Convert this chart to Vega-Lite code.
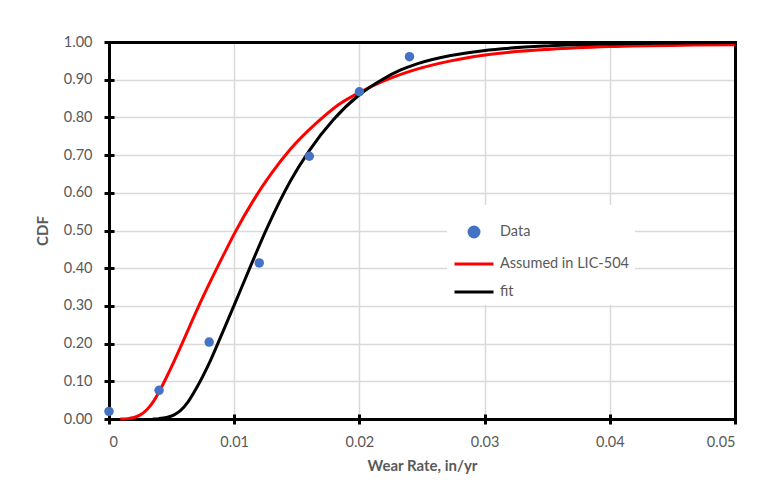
{
  "$schema": "https://vega.github.io/schema/vega-lite/v6.json",
  "autosize": "none",
  "width": 626,
  "height": 377,
  "padding": {"left": 109, "top": 42, "right": 43, "bottom": 69},
  "background": "white",
  "config": {
    "view": {"stroke": null},
    "font": "Lato",
    "legend": {
      "orient": "none", "legendX": 338, "legendY": 163, "title": null,
      "fillColor": "white", "padding": 6, "rowPadding": -8,
      "labelFont": "Lato", "labelFontSize": 14.5, "labelColor": "#595959", "labelOffset": 5,
      "symbolSize": 1521, "symbolStrokeWidth": 3
    }
  },
  "datasets": {
    "pts": [
      {"series": "Data", "x": 0.0, "y": 0.020},
      {"series": "Data", "x": 0.004, "y": 0.076},
      {"series": "Data", "x": 0.008, "y": 0.204},
      {"series": "Data", "x": 0.012, "y": 0.414},
      {"series": "Data", "x": 0.016, "y": 0.697},
      {"series": "Data", "x": 0.020, "y": 0.868},
      {"series": "Data", "x": 0.024, "y": 0.961}
    ],
    "curves": [
      {"series": "Assumed in LIC-504", "x": 0.0009, "y": 0.000},
      {"series": "Assumed in LIC-504", "x": 0.0015, "y": 0.001},
      {"series": "Assumed in LIC-504", "x": 0.0020, "y": 0.004},
      {"series": "Assumed in LIC-504", "x": 0.0025, "y": 0.011},
      {"series": "Assumed in LIC-504", "x": 0.0030, "y": 0.024},
      {"series": "Assumed in LIC-504", "x": 0.0035, "y": 0.044},
      {"series": "Assumed in LIC-504", "x": 0.0040, "y": 0.072},
      {"series": "Assumed in LIC-504", "x": 0.0048, "y": 0.125},
      {"series": "Assumed in LIC-504", "x": 0.0057, "y": 0.190},
      {"series": "Assumed in LIC-504", "x": 0.0071, "y": 0.295},
      {"series": "Assumed in LIC-504", "x": 0.0081, "y": 0.365},
      {"series": "Assumed in LIC-504", "x": 0.0091, "y": 0.432},
      {"series": "Assumed in LIC-504", "x": 0.0101, "y": 0.497},
      {"series": "Assumed in LIC-504", "x": 0.0115, "y": 0.578},
      {"series": "Assumed in LIC-504", "x": 0.0129, "y": 0.648},
      {"series": "Assumed in LIC-504", "x": 0.0145, "y": 0.716},
      {"series": "Assumed in LIC-504", "x": 0.0166, "y": 0.786},
      {"series": "Assumed in LIC-504", "x": 0.0183, "y": 0.833},
      {"series": "Assumed in LIC-504", "x": 0.0200, "y": 0.866},
      {"series": "Assumed in LIC-504", "x": 0.0219, "y": 0.896},
      {"series": "Assumed in LIC-504", "x": 0.0246, "y": 0.928},
      {"series": "Assumed in LIC-504", "x": 0.0273, "y": 0.950},
      {"series": "Assumed in LIC-504", "x": 0.0299, "y": 0.965},
      {"series": "Assumed in LIC-504", "x": 0.0353, "y": 0.981},
      {"series": "Assumed in LIC-504", "x": 0.0400, "y": 0.988},
      {"series": "Assumed in LIC-504", "x": 0.0467, "y": 0.992},
      {"series": "Assumed in LIC-504", "x": 0.0500, "y": 0.993},
      {"series": "fit", "x": 0.0035, "y": 0.000},
      {"series": "fit", "x": 0.0040, "y": 0.001},
      {"series": "fit", "x": 0.0046, "y": 0.004},
      {"series": "fit", "x": 0.0052, "y": 0.011},
      {"series": "fit", "x": 0.0057, "y": 0.022},
      {"series": "fit", "x": 0.0063, "y": 0.045},
      {"series": "fit", "x": 0.0070, "y": 0.083},
      {"series": "fit", "x": 0.0081, "y": 0.155},
      {"series": "fit", "x": 0.0091, "y": 0.232},
      {"series": "fit", "x": 0.0101, "y": 0.310},
      {"series": "fit", "x": 0.0113, "y": 0.405},
      {"series": "fit", "x": 0.0126, "y": 0.505},
      {"series": "fit", "x": 0.0145, "y": 0.632},
      {"series": "fit", "x": 0.0160, "y": 0.712},
      {"series": "fit", "x": 0.0179, "y": 0.793},
      {"series": "fit", "x": 0.0200, "y": 0.860},
      {"series": "fit", "x": 0.0219, "y": 0.902},
      {"series": "fit", "x": 0.0233, "y": 0.926},
      {"series": "fit", "x": 0.0246, "y": 0.942},
      {"series": "fit", "x": 0.0273, "y": 0.964},
      {"series": "fit", "x": 0.0299, "y": 0.977},
      {"series": "fit", "x": 0.0353, "y": 0.990},
      {"series": "fit", "x": 0.0400, "y": 0.995},
      {"series": "fit", "x": 0.0467, "y": 0.998},
      {"series": "fit", "x": 0.0500, "y": 0.999}
    ]
  },
  "layer": [
    {
      "data": {"name": "curves"},
      "transform": [{"filter": "datum.series == 'Assumed in LIC-504'"}],
      "mark": {"type": "line", "strokeWidth": 3, "interpolate": "monotone"},
      "encoding": {
        "x": {
          "field": "x", "type": "quantitative",
          "scale": {"domain": [0, 0.05], "nice": false, "zero": false},
          "axis": {
            "orient": "bottom",
            "title": "Wear Rate, in/yr", "titleFont": "Lato", "titleFontSize": 15, "titleFontWeight": "bold", "titleColor": "#595959", "titlePadding": 10,
            "labelFont": "Lato", "labelFontSize": 14.5, "labelColor": "#595959", "labelPadding": 11,
            "values": [0, 0.01, 0.02, 0.03, 0.04, 0.05], "format": ".2~f",
            "tickSize": 5, "tickWidth": 3, "tickColor": "black",
            "domainColor": "black", "domainWidth": 3, "domainCap": "square",
            "grid": true, "gridColor": "#d9d9d9", "gridWidth": 1.5
          }
        },
        "y": {
          "field": "y", "type": "quantitative",
          "scale": {"domain": [0, 1], "nice": false},
          "axis": {
            "orient": "left",
            "title": "CDF", "titleFont": "Lato", "titleFontSize": 15, "titleFontWeight": "bold", "titleColor": "#595959", "titlePadding": 13,
            "labelFont": "Lato", "labelFontSize": 14.5, "labelColor": "#595959", "labelPadding": 12,
            "values": [0, 0.1, 0.2, 0.3, 0.4, 0.5, 0.6, 0.7, 0.8, 0.9, 1.0], "format": ".2f",
            "tickSize": 5, "tickWidth": 3, "tickColor": "black",
            "domainColor": "black", "domainWidth": 3, "domainCap": "square",
            "grid": true, "gridColor": "#d9d9d9", "gridWidth": 1.5
          }
        },
        "color": {
          "field": "series", "type": "nominal",
          "scale": {"domain": ["Data", "Assumed in LIC-504", "fit"], "range": ["#4472C4", "#FF0000", "#000000"]},
          "legend": {"encode": {"symbols": {"update": {"size": {"signal": "datum.value == 'Data' ? 100 : 1521"}, "stroke": {"scale": "color", "field": "value"}, "strokeWidth": {"value": 3}}}}}
        }
      }
    },
    {
      "data": {"name": "curves"},
      "transform": [{"filter": "datum.series == 'fit'"}],
      "mark": {"type": "line", "strokeWidth": 3, "interpolate": "monotone"},
      "encoding": {
        "x": {
          "field": "x", "type": "quantitative",
          "axis": {"orient": "bottom", "offset": -5, "labels": false, "domain": false, "grid": false, "title": null, "values": [0, 0.01, 0.02, 0.03, 0.04, 0.05], "tickSize": 5, "tickWidth": 3, "tickColor": "black"}
        },
        "y": {
          "field": "y", "type": "quantitative",
          "axis": {"orient": "left", "offset": -5, "labels": false, "domain": false, "grid": false, "title": null, "values": [0, 0.1, 0.2, 0.3, 0.4, 0.5, 0.6, 0.7, 0.8, 0.9, 1.0], "tickSize": 5, "tickWidth": 3, "tickColor": "black"}
        },
        "color": {
          "field": "series", "type": "nominal",
          "legend": {"encode": {"symbols": {"update": {"size": {"signal": "datum.value == 'Data' ? 100 : 1521"}, "stroke": {"scale": "color", "field": "value"}, "strokeWidth": {"value": 3}}}}}
        }
      }
    },
    {
      "data": {"name": "pts"},
      "mark": {"type": "point", "filled": true, "opacity": 1, "size": 90},
      "encoding": {
        "x": {
          "field": "x", "type": "quantitative",
          "axis": {"orient": "top", "labels": false, "ticks": false, "grid": false, "title": null, "domain": true, "domainColor": "black", "domainWidth": 3, "domainCap": "square"}
        },
        "y": {
          "field": "y", "type": "quantitative",
          "axis": {"orient": "right", "labels": false, "ticks": false, "grid": false, "title": null, "domain": true, "domainColor": "black", "domainWidth": 3, "domainCap": "square"}
        },
        "color": {
          "field": "series", "type": "nominal",
          "legend": {"encode": {"symbols": {"update": {"size": {"signal": "datum.value == 'Data' ? 100 : 1521"}, "stroke": {"scale": "color", "field": "value"}, "strokeWidth": {"value": 3}}}}}
        },
        "shape": {
          "field": "series", "type": "nominal",
          "scale": {"domain": ["Data", "Assumed in LIC-504", "fit"], "range": ["circle", "stroke", "stroke"]},
          "legend": {"encode": {"symbols": {"update": {"size": {"signal": "datum.value == 'Data' ? 100 : 1521"}, "stroke": {"scale": "color", "field": "value"}, "strokeWidth": {"value": 3}}}}}
        }
      }
    }
  ],
  "resolve": {"axis": {"x": "independent", "y": "independent"}}
}
